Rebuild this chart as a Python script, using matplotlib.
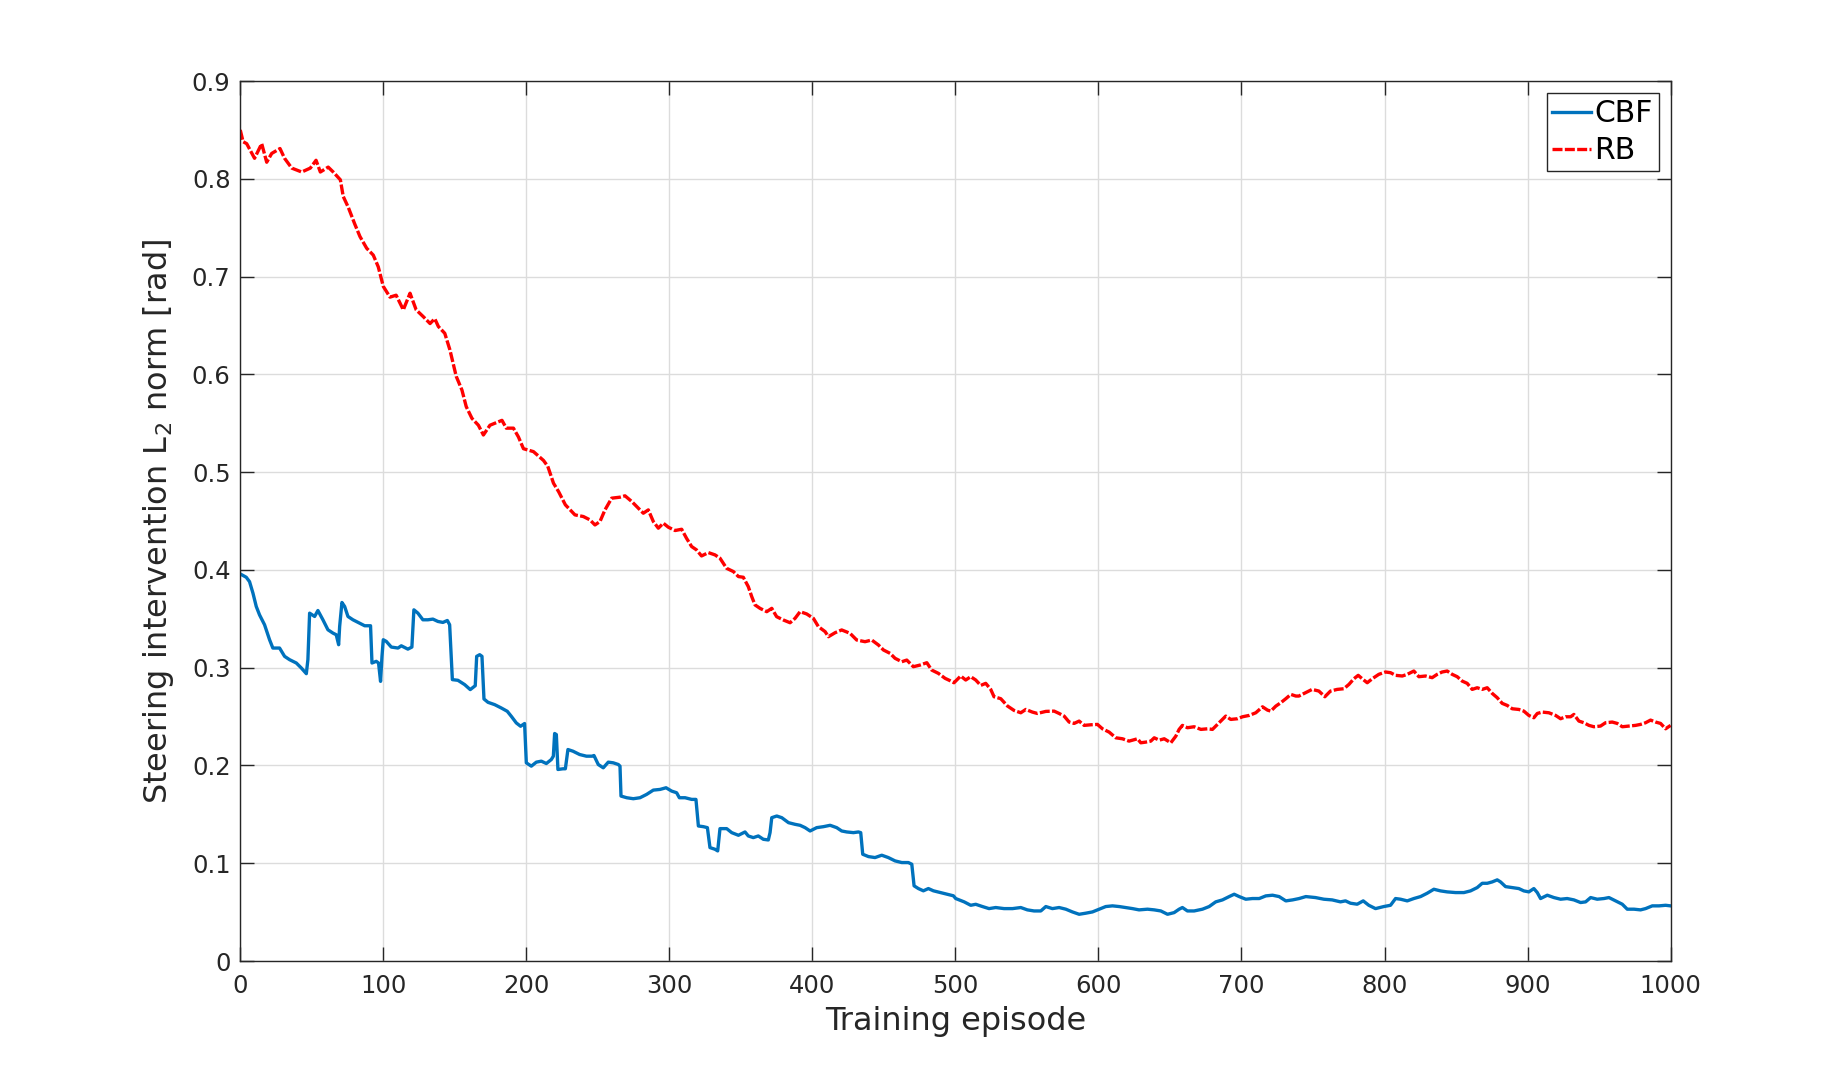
import matplotlib
matplotlib.use('Agg')
import matplotlib.pyplot as plt

# CBF curve (episode, L2 norm)
cbf_episode = [
    0, 4.2, 6.5, 8.9, 11.2, 13.5, 17, 20.5, 22.8, 27.5,
    31, 34.5, 39.2, 42.7, 46.2, 47.3, 48.5, 52, 54.3, 57.8,
    61.3, 64.8, 67.1, 68.8, 69.5, 71.1, 73, 75.3, 78.8, 83.4,
    87, 91.1, 92.1, 95.1, 96.7, 98.1, 99.1, 100, 102.1, 105.6,
    110.3, 112.6, 117.2, 120, 121.4, 124.2, 127.7, 131.2, 134.7, 138.2,
    141.7, 144.8, 146.4, 148.3, 152.2, 156.9, 160.8, 164.3, 165.3, 167.4,
    169, 170.4, 173.2, 177.9, 182.5, 186.7, 189.5, 193, 196, 198.8,
    200, 203.5, 207, 210.5, 214, 217.5, 218.9, 219.8, 221, 222.1,
    225.6, 227.3, 229.1, 232.6, 237.3, 242, 246,
    247.3, 250.3, 253.8, 257.3, 260.8, 264.3, 265.5, 266.2, 270.2, 274.8,
    279.5, 284.1, 288.8, 293.5, 297.7, 301.6, 305.1, 307, 311, 315.6,
    318.6, 320.3, 323.8, 326.6, 328.4, 331.9, 333.8, 335.4, 340.1, 343.6,
    348.3, 352.9, 355.2, 358.7, 362.2, 365.7, 369.2, 370.4, 371.6, 375.1,
    378.6, 383.3, 387.9, 391.4, 394.9, 398.4, 403, 407.7, 412.4, 417,
    420.5, 424, 428.7, 432.2, 433.8, 435.2, 439.2, 443.8, 448.5, 453.1,
    457.8, 462.5, 467.1, 469.5, 471.1, 474.1, 477.6, 481.1, 484.6, 489.3,
    493.9, 498.6,
    500.2, 506.1, 510.7, 514.2, 518.9, 523.5, 528.2, 534, 539.9, 545.7,
    550.3, 555, 559.7, 563.2, 567.8, 572.5, 577.2, 581.8, 586.5, 591.1,
    595.8, 600.5, 605.1, 609.8, 614.5, 619.1, 623.8, 628.4, 634.3, 639,
    643.6, 648.3, 652.9, 656.4, 658.7, 662.2, 666.9, 672.7, 677.4, 682,
    686.7, 691.4, 694.9, 698.4, 703, 707.7, 712.4, 717, 721.7, 726.3,
    731, 735.7, 740.3, 745,
    751.7, 757.6, 763.4, 769.2, 772.7, 776.2, 780.9, 785.1, 789, 793.7,
    799.5, 804.2, 807.7, 811.2, 815.9, 820.5, 825.2, 829.8, 834.5, 839.2,
    843.8, 849.7, 855.5, 860.1, 864.8, 868.3, 871.8, 875.3, 878.8, 881.1,
    884.6, 889.3, 893.9, 897.4, 900.9, 904.4, 906.8, 909.1, 913.8, 918.4,
    923.1, 927.7, 932.4, 937.1, 940.6, 944.1, 948.7, 953.4, 956.9, 961.5,
    966.2, 969.7, 974.4, 979, 982.5, 987.2, 991.9, 996.5, 1000,
]
cbf_value = [
    0.3959, 0.3925, 0.388, 0.3762, 0.3626, 0.354, 0.3439, 0.3286, 0.3201, 0.3201,
    0.3116, 0.3082, 0.3048, 0.2997, 0.2939, 0.3082, 0.3558, 0.3524, 0.3585, 0.349,
    0.3388, 0.3354, 0.3337, 0.3235, 0.3422, 0.3667, 0.3626, 0.3524, 0.349, 0.3456,
    0.3429, 0.3429, 0.3048, 0.3065, 0.3048, 0.286, 0.3116, 0.3286, 0.3269, 0.3211,
    0.3201, 0.3224, 0.319, 0.3211, 0.3592, 0.3558, 0.349, 0.349, 0.3497, 0.3473,
    0.3463, 0.3483, 0.3439, 0.2878, 0.2871, 0.2827, 0.2776, 0.2816, 0.3116, 0.3133,
    0.3116, 0.268, 0.2646, 0.2622, 0.2588, 0.2554, 0.2503, 0.2435, 0.2401, 0.2429,
    0.2027, 0.1993, 0.2034, 0.2044, 0.202, 0.2061, 0.2095, 0.2327, 0.2316, 0.1959,
    0.1966, 0.1966, 0.2163, 0.2146, 0.2112, 0.2095, 0.2095,
    0.2102, 0.201, 0.1976, 0.2034, 0.2027, 0.201, 0.1993, 0.1687, 0.167, 0.166,
    0.167, 0.1704, 0.1748, 0.1755, 0.1772, 0.1738, 0.1721, 0.167, 0.167, 0.1653,
    0.1653, 0.1381, 0.1374, 0.1364, 0.116, 0.1143, 0.1126, 0.1354, 0.1354, 0.1313,
    0.1286, 0.132, 0.1279, 0.1262, 0.1279, 0.1245, 0.1238, 0.1313, 0.1466, 0.1483,
    0.1466, 0.1415, 0.1398, 0.1388, 0.1364, 0.133, 0.1364, 0.1374, 0.1388, 0.1364,
    0.133, 0.132, 0.1313, 0.132, 0.1313, 0.1092, 0.1068, 0.1058, 0.1082, 0.1058,
    0.1024, 0.1007, 0.1007, 0.099, 0.0769, 0.0741, 0.0718, 0.0741, 0.0718, 0.0701,
    0.0684, 0.0667,
    0.0639, 0.0605, 0.057, 0.058, 0.0557, 0.0536, 0.0547, 0.0536, 0.0536, 0.0547,
    0.0523, 0.0512, 0.0512, 0.0557, 0.0536, 0.0547, 0.053, 0.0502, 0.0478, 0.0489,
    0.0502, 0.053, 0.0557, 0.0564, 0.0557, 0.0547, 0.0536, 0.0523, 0.053, 0.0523,
    0.0512, 0.0478, 0.0495, 0.053, 0.0547, 0.0512, 0.0512, 0.053, 0.0557, 0.0605,
    0.0625, 0.0659, 0.0683, 0.0659, 0.0632, 0.0639, 0.0639, 0.0666, 0.0673, 0.0659,
    0.0615, 0.0625, 0.0639, 0.0659,
    0.0649, 0.0632, 0.0625, 0.0605, 0.0615, 0.0591, 0.0581, 0.0615, 0.057, 0.0536,
    0.0557, 0.057, 0.0639, 0.0632, 0.0615, 0.0639, 0.0659, 0.0693, 0.0734, 0.0717,
    0.0707, 0.07, 0.07, 0.0717, 0.0751, 0.0795, 0.0795, 0.0809, 0.083, 0.0809,
    0.0761, 0.0751, 0.0741, 0.0717, 0.0707, 0.0741, 0.07, 0.0639, 0.0673, 0.0649,
    0.0632, 0.0639, 0.0625, 0.0598, 0.0605, 0.0649, 0.0632, 0.0639, 0.0649, 0.0615,
    0.0581, 0.053, 0.053, 0.0523, 0.0536, 0.0564, 0.0564, 0.057, 0.0564,
]

# RB curve
rb_episode = [
    0, 2, 4.5, 10, 15, 18.5, 22, 27.8, 31, 36,
    43, 49, 53, 56, 61.5, 65, 70, 72, 75.5, 80,
    83.7, 88.4, 93, 96.5, 100, 104.7, 109, 114, 118.7, 123,
    128, 132.7, 136, 138.5, 143, 146.6, 151, 155, 158, 162,
    166.5, 170, 174.6, 183, 186, 191, 194.5, 198, 205, 212,
    215,
    219, 222.6, 227.3, 234, 239.9, 244.5, 248, 251.5, 255, 259.7,
    265.5, 269, 273.7, 278.3, 281.8, 285.3, 288.8, 292.3, 295.8, 299.3,
    304, 308.6, 312, 315.6, 319, 322.5, 327.3, 331.9, 335.4, 340,
    344.8, 348.3, 351.7, 355.2, 357.6, 359.9, 363.4, 368.1, 371.6, 375,
    379.7, 384.4, 387.9, 391.4, 396, 400.7, 404.2, 408.9, 411.2, 415.9,
    420.5, 426.3, 431, 436.8, 441.5, 446.2, 449.7, 454.3, 457.8, 462.5,
    466, 470.6, 475.3, 480, 483.4, 488.1, 492.8, 496.3,
    499, 503.7, 507.2, 510.7, 514.2, 517.7, 521.2, 524.7, 527, 531.7,
    536.4, 541, 545.7, 549.2, 553.8, 557.3, 563.2, 569, 572.5, 576,
    579.5, 583, 586.5, 590, 594.6, 599.3, 602.8, 607.5, 612.1, 616.8,
    621.4, 627.3, 629.6, 633.1, 636.6, 639, 642.5, 646, 650.6, 654.1,
    656.4, 658.7, 662.2, 666.9, 671.6, 676.2, 679.7, 683.2, 686.7, 689,
    692.5, 697.2, 700.7, 705.4, 710, 714.7, 718.2, 720.5, 724, 727.5,
    731, 734.5, 738,
    740.1, 744.8, 749.4, 754.1, 758.3, 762.2, 766.9, 771.6, 775.1, 778.6,
    781.6, 784.4, 787.9, 791.4, 796, 800.7, 804.2, 807.7, 812.4, 815.9,
    820.5, 824, 828.7, 833.3, 836.8, 840.3, 843.8, 847.3, 850.8, 854.3,
    857.8, 861.3, 864.8, 868.3, 871.8, 875.3, 878.8, 882.3, 885.8, 889.3,
    893.9, 897.4, 900.9, 904.4, 906.8, 910.3, 914.9, 919.6, 923.1, 926.6,
    930.1, 932.4, 935.9, 939.4, 942.9, 946.4, 951, 954.5, 959.2, 962.7,
    966.2, 970.9, 975.5, 979, 982.5, 986, 989.5, 993, 996.5, 1000,
]
rb_value = [
    0.850, 0.838, 0.836, 0.821, 0.836, 0.817, 0.826, 0.831, 0.821, 0.811,
    0.807, 0.811, 0.819, 0.807, 0.812, 0.807, 0.799, 0.782, 0.771, 0.754,
    0.741, 0.729, 0.722, 0.710, 0.690, 0.679, 0.681, 0.666, 0.683, 0.666,
    0.659, 0.652, 0.657, 0.649, 0.642, 0.625, 0.598, 0.584, 0.567, 0.555,
    0.548, 0.538, 0.548, 0.553, 0.545, 0.545, 0.536, 0.524, 0.521, 0.512,
    0.506,
    0.4887, 0.480, 0.4666, 0.4563, 0.4546, 0.4512, 0.446, 0.4495, 0.4614, 0.4734,
    0.4744, 0.4758, 0.470, 0.4631, 0.458, 0.4614, 0.4495, 0.4427, 0.4478, 0.4437,
    0.4403, 0.4416, 0.4324, 0.4239, 0.4205, 0.4143, 0.4177, 0.4154, 0.412, 0.4017,
    0.3983, 0.3932, 0.3925, 0.3829, 0.3727, 0.3642, 0.3607, 0.3573, 0.3607, 0.3522,
    0.3488, 0.346, 0.3505, 0.3573, 0.355, 0.3505, 0.342, 0.3369, 0.3317, 0.3358,
    0.3386, 0.3352, 0.3283, 0.3266, 0.3283, 0.3232, 0.3181, 0.3147, 0.3096, 0.3061,
    0.3078, 0.301, 0.3027, 0.3051, 0.2976, 0.2942, 0.2891, 0.2867,
    0.2846, 0.2915, 0.2874, 0.2908, 0.2874, 0.2819, 0.284, 0.2778, 0.2703, 0.2683,
    0.2608, 0.2563, 0.2539, 0.2573, 0.2546, 0.2532, 0.2553, 0.2556, 0.2532, 0.2505,
    0.2444, 0.243, 0.2454, 0.241, 0.2416, 0.242, 0.2375, 0.2341, 0.2283, 0.2273,
    0.2249, 0.2273, 0.2232, 0.2239, 0.2249, 0.2283, 0.2259, 0.2273, 0.2232, 0.23,
    0.2369, 0.241, 0.2386, 0.2396, 0.2369, 0.2375, 0.2369, 0.242, 0.2471, 0.2505,
    0.2471, 0.2478, 0.2498, 0.2512, 0.2539, 0.26, 0.2566, 0.2556, 0.2607, 0.2642,
    0.2683, 0.2727, 0.271,
    0.271, 0.2744, 0.2778, 0.2761, 0.2703, 0.2761, 0.2778, 0.2785, 0.2829, 0.2887,
    0.2922, 0.2887, 0.2846, 0.2887, 0.2932, 0.2956, 0.2949, 0.2922, 0.2915, 0.2932,
    0.2966, 0.2908, 0.2915, 0.2898, 0.2932, 0.2956, 0.2966, 0.2932, 0.2908, 0.2863,
    0.284, 0.2778, 0.2795, 0.2778, 0.2795, 0.2737, 0.2693, 0.2635, 0.2614, 0.258,
    0.2573, 0.2556, 0.2512, 0.2488, 0.2532, 0.2546, 0.2539, 0.2512, 0.2478, 0.2498,
    0.2498, 0.2522, 0.2454, 0.2437, 0.241, 0.2396, 0.2403, 0.2437, 0.2444, 0.243,
    0.2396, 0.2403, 0.241, 0.242, 0.2437, 0.2464, 0.2444, 0.243, 0.2375, 0.241,
]

x_ticks = [0, 100, 200, 300, 400, 500, 600, 700, 800, 900, 1000]
y_ticks = [0, 0.1, 0.2, 0.3, 0.4, 0.5, 0.6, 0.7, 0.8, 0.9]
y_tick_labels = ['0', '0.1', '0.2', '0.3', '0.4', '0.5', '0.6', '0.7', '0.8', '0.9']

dark = '#262626'

fig = plt.figure(figsize=(18.48, 10.81), dpi=100)
ax = fig.add_axes([0.130, 0.111, 0.774, 0.814])

ax.plot(cbf_episode, cbf_value, color='#0072BD', lw=2.4, label='CBF')
ax.plot(rb_episode, rb_value, color='#FF0000', lw=2.4, ls=(0, (3, 0.7)), label='RB')

ax.set_xlim(0, 1000)
ax.set_ylim(0, 0.9)
ax.set_xticks(x_ticks)
ax.set_yticks(y_ticks)
ax.set_yticklabels(y_tick_labels)

ax.grid(True, color='#dcdcdc', lw=1)
ax.set_axisbelow(True)
ax.tick_params(direction='in', top=True, right=True, length=10, width=1,
               color=dark, labelcolor=dark, labelsize=17.5)
ax.tick_params(axis='x', pad=9)
ax.tick_params(axis='y', pad=7)
for sp in ax.spines.values():
    sp.set_color(dark)
    sp.set_linewidth(1)

ax.set_xlabel('Training episode', fontsize=23, color=dark, labelpad=6)
ax.set_ylabel('Steering intervention L$_2$ norm [rad]', fontsize=23, color=dark, labelpad=11)

leg = ax.legend(loc='upper right', fontsize=21.5, fancybox=False, framealpha=1,
                edgecolor=dark, handlelength=1.3, handletextpad=0.1,
                borderpad=0.2, labelspacing=0.28, borderaxespad=0.4)
leg.get_frame().set_linewidth(1)

fig.savefig('out.png', dpi=100)
